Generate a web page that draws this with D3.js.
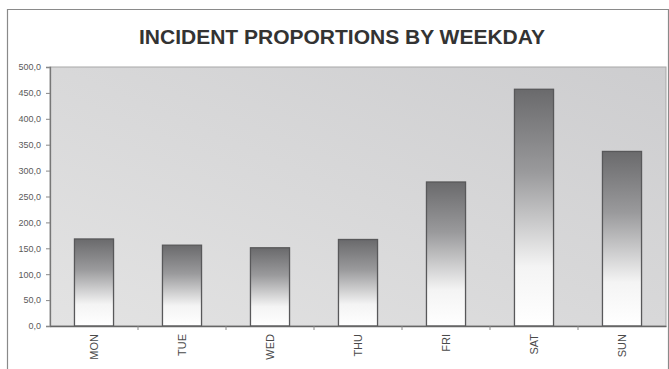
<!DOCTYPE html>
<html>
<head>
<meta charset="utf-8">
<script src="https://cdn.jsdelivr.net/npm/d3@7/dist/d3.min.js"></script>
<style>
  html, body { margin: 0; padding: 0; background: #fff; }
  svg { display: block; }
</style>
</head>
<body>
<svg id="chart" width="669" height="369"></svg>
<script>
// Incident proportions per weekday
const days = ["MON", "TUE", "WED", "THU", "FRI", "SAT", "SUN"];
const proportions = [168, 156, 151, 167, 278, 457, 337];
const yTicks = [0, 50, 100, 150, 200, 250, 300, 350, 400, 450, 500];

const svg = d3.select("#chart");
const W = 669, H = 369;
const plot = { left: 50, right: 666, top: 67, bottom: 326 };

const defs = svg.append("defs");
const bg = defs.append("linearGradient").attr("id", "plotBg")
  .attr("x1", "1").attr("y1", "0").attr("x2", "0").attr("y2", "1");
bg.append("stop").attr("offset", "0%").attr("stop-color", "#cdcdcf");
bg.append("stop").attr("offset", "100%").attr("stop-color", "#e3e3e3");

const barGrad = defs.append("linearGradient").attr("id", "barFill")
  .attr("x1", "0").attr("y1", "0").attr("x2", "0").attr("y2", "1");
barGrad.append("stop").attr("offset", "0%").attr("stop-color", "#6a6a6c");
barGrad.append("stop").attr("offset", "35%").attr("stop-color", "#9a9a9c");
barGrad.append("stop").attr("offset", "75%").attr("stop-color", "#f4f4f4");
barGrad.append("stop").attr("offset", "100%").attr("stop-color", "#ffffff");

// outer frame
svg.append("path")
  .attr("d", `M7.5,${H} V9.5 H668.5 V${H}`)
  .attr("fill", "none").attr("stroke", "#8a8a8a").attr("stroke-width", 1.2);

svg.append("text")
  .attr("x", 342).attr("y", 44)
  .attr("text-anchor", "middle")
  .attr("font-family", "Liberation Sans, Arial, sans-serif")
  .attr("font-weight", "bold").attr("font-size", 21)
  .attr("fill", "#333")
  .text("INCIDENT PROPORTIONS BY WEEKDAY");

const x = d3.scaleBand().domain(days).range([plot.left, plot.right]).paddingInner(0.556).paddingOuter(0.278);
const y = d3.scaleLinear().domain([0, 500]).range([plot.bottom, plot.top]);

svg.append("rect")
  .attr("x", plot.left).attr("y", plot.top)
  .attr("width", plot.right - plot.left).attr("height", plot.bottom - plot.top)
  .attr("fill", "url(#plotBg)").attr("stroke", "#a8a8a8").attr("stroke-width", 1);

svg.selectAll("rect.bar").data(days).join("rect")
  .attr("class", "bar")
  .attr("x", d => x(d))
  .attr("y", (d, i) => y(proportions[i]))
  .attr("width", x.bandwidth())
  .attr("height", (d, i) => y(0) - y(proportions[i]))
  .attr("fill", "url(#barFill)")
  .attr("stroke", "#58585a").attr("stroke-width", 1.3);

// y axis
const commaFmt = d => d3.format(".1f")(d).replace(".", ",");
const yAxis = svg.append("g")
  .attr("transform", `translate(${plot.left},0)`)
  .call(d3.axisLeft(y).tickValues(yTicks).tickSize(4).tickFormat(commaFmt));
yAxis.select(".domain").attr("stroke", "#777").attr("stroke-width", 1.3);
yAxis.selectAll(".tick line").attr("stroke", "#888");
yAxis.selectAll("text")
  .attr("font-family", "Liberation Sans, Arial, sans-serif")
  .attr("font-size", 9).attr("fill", "#5a5a5a").attr("x", -9);

// x axis with category separators
const xAxis = svg.append("g")
  .attr("transform", `translate(0,${plot.bottom})`)
  .call(d3.axisBottom(x).tickSize(0).tickPadding(0));
xAxis.select(".domain").attr("stroke", "#666").attr("stroke-width", 1.3);
xAxis.selectAll("text")
  .attr("font-family", "Liberation Sans, Arial, sans-serif")
  .attr("font-size", 11).attr("fill", "#4a4a4a")
  .attr("transform", "rotate(-90)")
  .attr("text-anchor", "end")
  .attr("x", -8).attr("y", 0).attr("dy", "0.35em");

const step = x.step();
svg.selectAll("line.sep").data(days.slice(1)).join("line")
  .attr("class", "sep")
  .attr("x1", d => x(d) - x.paddingInner() * step / 2)
  .attr("x2", d => x(d) - x.paddingInner() * step / 2)
  .attr("y1", plot.bottom).attr("y2", plot.bottom + 4)
  .attr("stroke", "#888");
</script>
</body>
</html>
